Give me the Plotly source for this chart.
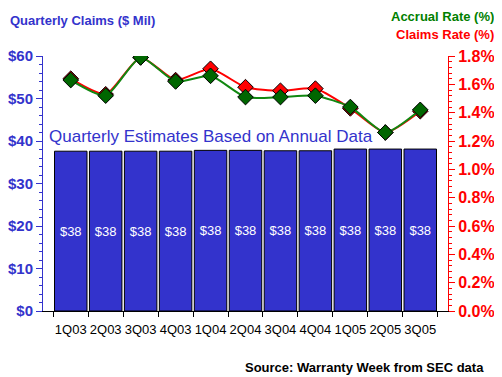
import plotly.graph_objects as go

quarters = ["1Q03","2Q03","3Q03","4Q03","1Q04","2Q04","3Q04","4Q04","1Q05","2Q05","3Q05"]
claims = [37.6,37.6,37.6,37.6,37.8,37.8,37.7,37.7,38.1,38.1,38.1]
bar_labels = ["$38"]*11
accrual_rate = [1.63,1.52,1.79,1.62,1.66,1.51,1.51,1.52,1.44,1.26,1.42]
claims_rate = [1.64,1.53,1.79,1.63,1.71,1.58,1.555,1.57,1.43,1.26,1.41]

left_ticks = [0,10,20,30,40,50,60]
left_labels = ["$0","$10","$20","$30","$40","$50","$60"]
right_ticks = [0,0.2,0.4,0.6,0.8,1.0,1.2,1.4,1.6,1.8]
right_labels = ["0.0%","0.2%","0.4%","0.6%","0.8%","1.0%","1.2%","1.4%","1.6%","1.8%"]

BLUE = "#3333CC"
RED = "#FF0000"
GREEN = "#118811"

fig = go.Figure()
fig.add_trace(go.Bar(
    x=quarters, y=claims, text=bar_labels, textposition="inside",
    insidetextanchor="middle",
    textfont=dict(family="Arial", size=13, color="white"),
    marker=dict(color=BLUE, line=dict(color="black", width=1)),
    yaxis="y", showlegend=False, hoverinfo="skip"))
fig.add_trace(go.Scatter(
    x=quarters, y=claims_rate, mode="lines+markers", yaxis="y2",
    line=dict(color=RED, width=2, shape="spline", smoothing=0.6),
    marker=dict(symbol="diamond", size=12, color=RED, line=dict(color="black", width=1)),
    showlegend=False))
fig.add_trace(go.Scatter(
    x=quarters, y=accrual_rate, mode="lines+markers", yaxis="y2",
    line=dict(color=GREEN, width=2, shape="spline", smoothing=0.6),
    marker=dict(symbol="diamond", size=12, color="#006600", line=dict(color="black", width=1)),
    showlegend=False))

# page body adds an 8px offset; sizes/margins compensate so the plot area sits at x 43-448, y 56-311
fig.update_layout(
    width=494, height=369,
    margin=dict(l=35, r=54, t=48, b=66),
    paper_bgcolor="white", plot_bgcolor="white",
    bargap=0.07,
    xaxis=dict(
        type="category", tickson="boundaries", ticks="outside", ticklen=5,
        tickcolor="black", showline=True, linecolor="black", linewidth=1,
        showgrid=False, tickangle=0, automargin=False, ticklabelstandoff=6,
        tickfont=dict(family="Arial", size=13, color="black")),
    yaxis=dict(
        range=[0,60], tickvals=left_ticks, ticktext=left_labels,
        ticks="outside", ticklen=6, tickcolor=BLUE, showline=True, linecolor=BLUE,
        linewidth=1, showgrid=False, zeroline=False, automargin=False,
        minor=dict(dtick=2, ticks="outside", ticklen=3, tickcolor=BLUE),
        tickfont=dict(family="Arial", size=15, color=BLUE, weight="bold")),
    yaxis2=dict(
        range=[0,1.8], tickvals=right_ticks, ticktext=right_labels,
        overlaying="y", side="right", automargin=False,
        ticks="outside", ticklen=6, tickcolor=RED, showline=True, linecolor=RED,
        linewidth=1, showgrid=False, zeroline=False,
        minor=dict(dtick=0.04, ticks="outside", ticklen=3, tickcolor=RED),
        tickfont=dict(family="Arial", size=16, color=RED, weight="bold")),
    annotations=[
        dict(text="Quarterly Claims ($ Mil)", xref="paper", yref="paper",
             x=(8-43)/405, y=1+(56-20)/255, xanchor="left", yanchor="middle", showarrow=False,
             font=dict(family="Arial", size=13, color=BLUE, weight="bold")),
        dict(text="Accrual Rate (%)", xref="paper", yref="paper",
             x=1+(496-448)/405, y=1+(56-16)/255, xanchor="right", yanchor="middle", showarrow=False,
             font=dict(family="Arial", size=13, color="#008000", weight="bold")),
        dict(text="Claims Rate (%)", xref="paper", yref="paper",
             x=1+(496-448)/405, y=1+(56-34)/255, xanchor="right", yanchor="middle", showarrow=False,
             font=dict(family="Arial", size=13, color=RED, weight="bold")),
        dict(text="Quarterly Estimates Based on Annual Data", xref="paper", yref="paper",
             x=(47-43)/405, y=(311-136)/255, xanchor="left", yanchor="middle", showarrow=False,
             font=dict(family="Arial", size=17, color=BLUE)),
        dict(text="Source: Warranty Week from SEC data", xref="paper", yref="paper",
             x=1+(486-448)/405, y=-(367-311)/255, xanchor="right", yanchor="middle", showarrow=False,
             font=dict(family="Arial", size=13, color="black", weight="bold")),
    ],
)
fig.write_html("out.html")
